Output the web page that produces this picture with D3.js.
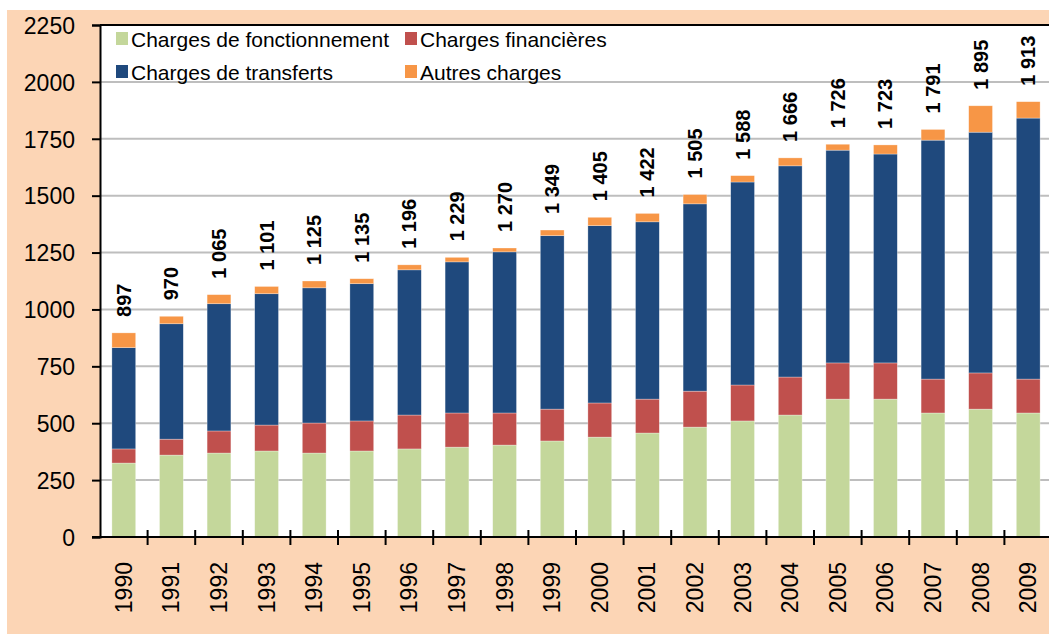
<!DOCTYPE html>
<html>
<head>
<meta charset="utf-8">
<script src="https://cdn.jsdelivr.net/npm/d3@7"></script>
<style>
  body { margin: 0; background: #fff; }
  svg { display: block; font-family: "Liberation Sans", Arial, sans-serif; }
</style>
</head>
<body>
<svg id="chart" width="1049" height="635"></svg>
<script>
// data (millions)
var years = ["1990","1991","1992","1993","1994","1995","1996","1997","1998","1999",
             "2000","2001","2002","2003","2004","2005","2006","2007","2008","2009"]
var fonctionnement = [325,360,369,378,369,378,387,395,404,422,439,457,483,510,536,606,606,545,562,545]
var financieres   = [62,70,97,114,132,132,149,150,141,140,150,149,158,158,167,159,159,149,159,149]
var transferts    = [445,507,559,577,594,603,638,664,708,762,779,779,823,892,928,935,918,1050,1058,1147]
var autres        = [65,33,40,32,30,22,22,20,17,25,37,37,41,28,35,26,40,47,116,72]
var totalLabels   = ["897","970","1 065","1 101","1 125","1 135","1 196","1 229","1 270","1 349",
                     "1 405","1 422","1 505","1 588","1 666","1 726","1 723","1 791","1 895","1 913"]
var yTicks = [0,250,500,750,1000,1250,1500,1750,2000,2250]

var seriesKeys = ["fonct","fin","transf","autres"]
var seriesNames = ["Charges de fonctionnement","Charges financières","Charges de transferts","Autres charges"]
var seriesColors = ["#C4D79B","#C0504D","#1F497D","#F79646"]

var table = years.map(function(y, i) {
	return { year: y, fonct: fonctionnement[i], fin: financieres[i], transf: transferts[i], autres: autres[i], label: totalLabels[i] }
})

var svg = d3.select('#chart')
var plotLeft = 100, plotRight = 1052, plotTop = 25, plotBottom = 537

// peach frame
svg.append('rect')
	.attr('x', 7).attr('y', 10).attr('width', 1042).attr('height', 624)
	.attr('fill', '#FCD5B5')

// plot area
svg.append('rect')
	.attr('x', plotLeft).attr('y', plotTop).attr('width', plotRight - plotLeft).attr('height', plotBottom - plotTop)
	.attr('fill', '#fff')

var x = d3.scaleBand().domain(years).range([plotLeft, plotRight]).paddingInner(0.5).paddingOuter(0.25)
var y = d3.scaleLinear().domain([0, 2250]).range([plotBottom, plotTop])

// gridlines
svg.append('g').selectAll('line')
	.data(yTicks.filter(function(d) { return d > 0 && d < 2250 }))
	.join('line')
		.attr('x1', plotLeft).attr('x2', plotRight)
		.attr('y1', function(d) { return y(d) }).attr('y2', function(d) { return y(d) })
		.attr('stroke', '#BEBEBE').attr('stroke-width', 2)

// stacked bars
var stacked = d3.stack().keys(seriesKeys)(table)
svg.append('g').selectAll('g')
	.data(stacked)
	.join('g')
		.attr('fill', function(d, i) { return seriesColors[i] })
	.selectAll('rect')
	.data(function(d) { return d })
	.join('rect')
		.attr('x', function(d) { return x(d.data.year) })
		.attr('width', x.bandwidth())
		.attr('y', function(d) { return y(d[1]) })
		.attr('height', function(d) { return y(d[0]) - y(d[1]) })
		.attr('stroke', 'rgba(255,255,255,0.5)').attr('stroke-width', 0.6)

// total labels
svg.append('g').selectAll('text')
	.data(table)
	.join('text')
		.attr('transform', function(d) {
			var tot = d.fonct + d.fin + d.transf + d.autres
			return 'translate(' + (x(d.year) + x.bandwidth() / 2 + 7) + ',' + (y(tot) - 16) + ') rotate(-90)'
		})
		.attr('font-size', 20).attr('font-weight', 'bold')
		.attr('fill', '#000')
		.text(function(d) { return d.label })

// top border of plot
svg.append('line')
	.attr('x1', plotLeft).attr('x2', plotRight).attr('y1', plotTop).attr('y2', plotTop)
	.attr('stroke', '#000').attr('stroke-width', 2)

// y axis
var yAxis = svg.append('g')
	.attr('transform', 'translate(' + plotLeft + ',0)')
	.call(d3.axisLeft(y).tickValues(yTicks).tickSize(8).tickPadding(17).tickFormat(d3.format('d')))
yAxis.select('.domain').attr('stroke', '#000').attr('stroke-width', 2)
yAxis.selectAll('.tick line').attr('stroke', '#000').attr('stroke-width', 2)
yAxis.selectAll('.tick text').attr('font-size', 23).attr('font-family', '"Liberation Sans", Arial, sans-serif').attr('fill', '#000').attr('dy', '0.36em')

// x axis: ticks at category boundaries
var bounds = years.map(function(d) { return x(d) - x.bandwidth() / 2 })
svg.append('line')
	.attr('x1', plotLeft - 8).attr('x2', plotRight).attr('y1', plotBottom).attr('y2', plotBottom)
	.attr('stroke', '#000').attr('stroke-width', 2)
svg.append('g').selectAll('line')
	.data(bounds.slice(1))
	.join('line')
		.attr('x1', function(d) { return d }).attr('x2', function(d) { return d })
		.attr('y1', plotBottom - 7).attr('y2', plotBottom + 8)
		.attr('stroke', '#000').attr('stroke-width', 2)
svg.append('g').selectAll('text')
	.data(years)
	.join('text')
		.attr('transform', function(d) { return 'translate(' + (x(d) + x.bandwidth() / 2 + 8) + ',' + 562 + ') rotate(-90)' })
		.attr('text-anchor', 'end')
		.attr('font-size', 23).attr('fill', '#000')
		.text(function(d) { return d })

// legend
var legendPos = [[116, 32], [405, 32], [116, 65], [405, 65]]
var legend = svg.append('g').selectAll('g')
	.data(seriesNames)
	.join('g')
		.attr('transform', function(d, i) { return 'translate(' + legendPos[i][0] + ',' + legendPos[i][1] + ')' })
legend.append('rect')
	.attr('width', 12).attr('height', 13)
	.attr('fill', function(d, i) { return seriesColors[i] })
legend.append('text')
	.attr('x', 15).attr('y', 15)
	.attr('font-size', 21).attr('fill', '#000')
	.text(function(d) { return d })
</script>
</body>
</html>
